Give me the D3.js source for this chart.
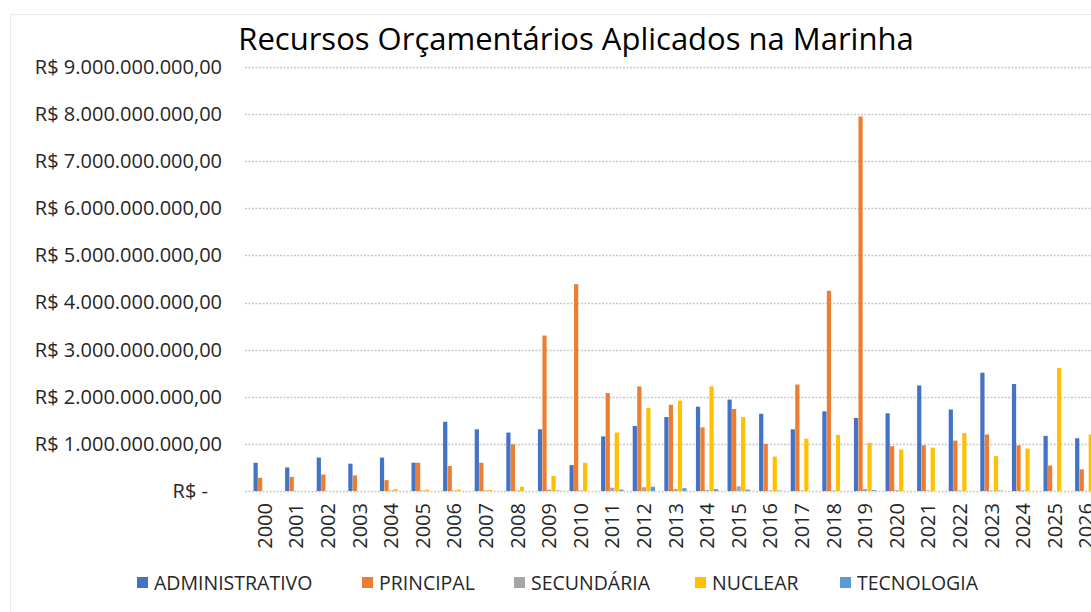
<!DOCTYPE html>
<html>
<head>
<meta charset="utf-8">
<script src="https://cdn.jsdelivr.net/npm/d3@7"></script>
<style>
  body { margin: 0; background: #fff; }
  svg, svg text { font-family: "Open Sans", "Noto Sans", sans-serif; }
</style>
</head>
<body>
<script>
// dados (bilhões de R$)
var anos = ['2000','2001','2002','2003','2004','2005','2006','2007','2008','2009','2010','2011','2012',
            '2013','2014','2015','2016','2017','2018','2019','2020','2021','2022','2023','2024','2025','2026'];

var series = ['ADMINISTRATIVO','PRINCIPAL','SECUNDÁRIA','NUCLEAR','TECNOLOGIA'];

var administrativo = [0.60,0.50,0.71,0.58,0.71,0.60,1.47,1.31,1.24,1.31,0.55,1.16,1.38,1.57,1.79,1.94,1.64,1.31,1.69,1.55,1.65,2.24,1.73,2.51,2.27,1.17,1.12];
var principal      = [0.28,0.30,0.35,0.33,0.23,0.60,0.53,0.60,0.99,3.30,4.39,2.08,2.22,1.83,1.35,1.74,1.00,2.26,4.25,7.95,0.95,0.97,1.07,1.20,0.97,0.54,0.46];
var secundaria     = [0.00,0.00,0.00,0.00,0.01,0.01,0.01,0.01,0.01,0.03,0.01,0.07,0.08,0.04,0.02,0.10,0.01,0.01,0.01,0.04,0.02,0.01,0.01,0.01,0.01,0.00,0.00];
var nuclear        = [0.00,0.00,0.00,0.00,0.04,0.03,0.03,0.02,0.09,0.32,0.60,1.24,1.76,1.92,2.22,1.57,0.73,1.11,1.19,1.02,0.88,0.92,1.23,0.74,0.90,2.61,1.20];
var tecnologia     = [0.00,0.00,0.00,0.00,0.00,0.00,0.00,0.00,0.00,0.01,0.00,0.03,0.09,0.06,0.04,0.03,0.01,0.00,0.00,0.02,0.00,0.00,0.00,0.01,0.00,0.00,0.00];

var yTicks = [0,1,2,3,4,5,6,7,8,9];
var cores = ['#4472C4','#ED7D31','#A5A5A5','#FFC000','#5B9BD5'];

var valores = [administrativo, principal, secundaria, nuclear, tecnologia];

var width = 1091, height = 612;
var margin = {left:249, top:67, bottom:121};
var plotW = 31.6 * anos.length;

var svg = d3.select("body").append("svg").attr("width",width).attr("height",height);

// borda da área do gráfico
svg.append("rect").attr("x",10.5).attr("y",14.5).attr("width",1100).attr("height",620)
   .attr("fill","none").attr("stroke","#d0d0d0").attr("stroke-dasharray","1,1");

var x = d3.scaleBand().domain(anos).range([margin.left, margin.left + plotW]).paddingInner(0);
var y = d3.scaleLinear().domain([0,9]).range([height - margin.bottom, margin.top]);

var gap = 2; // gap width 200%
var barW = x.bandwidth() / (series.length + gap);
var xs = d3.scaleBand().domain(series).range([barW*gap/2, barW*gap/2 + barW*series.length]);

function fmt(v) {
  if (v === 0) return "R$ -";
  return "R$ " + d3.format(",")(v*1e9).replace(/,/g,".") + ",00";
}

// grade
svg.append("g").selectAll("line").data(yTicks).join("line")
  .attr("x1",245).attr("x2",width)
  .attr("y1",d => Math.round(y(d))+0.5).attr("y2",d => Math.round(y(d))+0.5)
  .attr("stroke","#c8c8c8").attr("stroke-width",1.5).attr("stroke-dasharray","2,1.5");

// eixo y
var yAxis = d3.axisLeft(y).tickValues(yTicks).tickSize(0).tickPadding(0).tickFormat(fmt);
var gy = svg.append("g").attr("transform","translate(222,0)").call(yAxis)
  .attr("font-family", null);
gy.select(".domain").remove();
gy.selectAll("text").attr("font-size",20).attr("fill","#262626")
  .attr("dx", d => d === 0 ? -14 : 0);

// barras
var grupos = svg.append("g").selectAll("g").data(anos).join("g")
  .attr("transform", d => "translate(" + x(d) + ",0)");

grupos.selectAll("rect")
  .data((d,i) => series.map((s,j) => ({s:s, v:valores[j][i], c:cores[j]})))
  .join("rect")
  .attr("x", d => xs(d.s))
  .attr("width", xs.bandwidth() - 0.3)
  .attr("y", d => y(d.v))
  .attr("height", d => y(0) - y(d.v))
  .attr("fill", d => d.c);

// eixo x
var xAxis = d3.axisBottom(x).tickSize(0).tickPadding(0);
var gx = svg.append("g").attr("transform","translate(0," + (height - margin.bottom) + ")").call(xAxis)
  .attr("font-family", null);
gx.select(".domain").remove();
gx.selectAll("text")
  .attr("font-size",20).attr("fill","#262626")
  .attr("text-anchor","end")
  .attr("transform","rotate(-90)")
  .attr("x",-12).attr("y",0).attr("dy","0.35em");

// título
svg.append("text").attr("x",576).attr("y",50).attr("text-anchor","middle")
  .attr("font-size",31).attr("fill","#000")
  .text("Recursos Orçamentários Aplicados na Marinha");

// legenda
var legX = [137, 362, 514, 695, 840];
var leg = svg.append("g").selectAll("g").data(series).join("g")
  .attr("transform",(d,i) => "translate(" + legX[i] + ",583)");
leg.append("rect").attr("x",0).attr("y",-6).attr("width",11).attr("height",11)
  .attr("fill",(d,i) => cores[i]);
leg.append("text").attr("x",17).attr("y",0).attr("dy","0.35em")
  .attr("font-size",19.5).attr("fill","#262626").text(d => d);
</script>
</body>
</html>
